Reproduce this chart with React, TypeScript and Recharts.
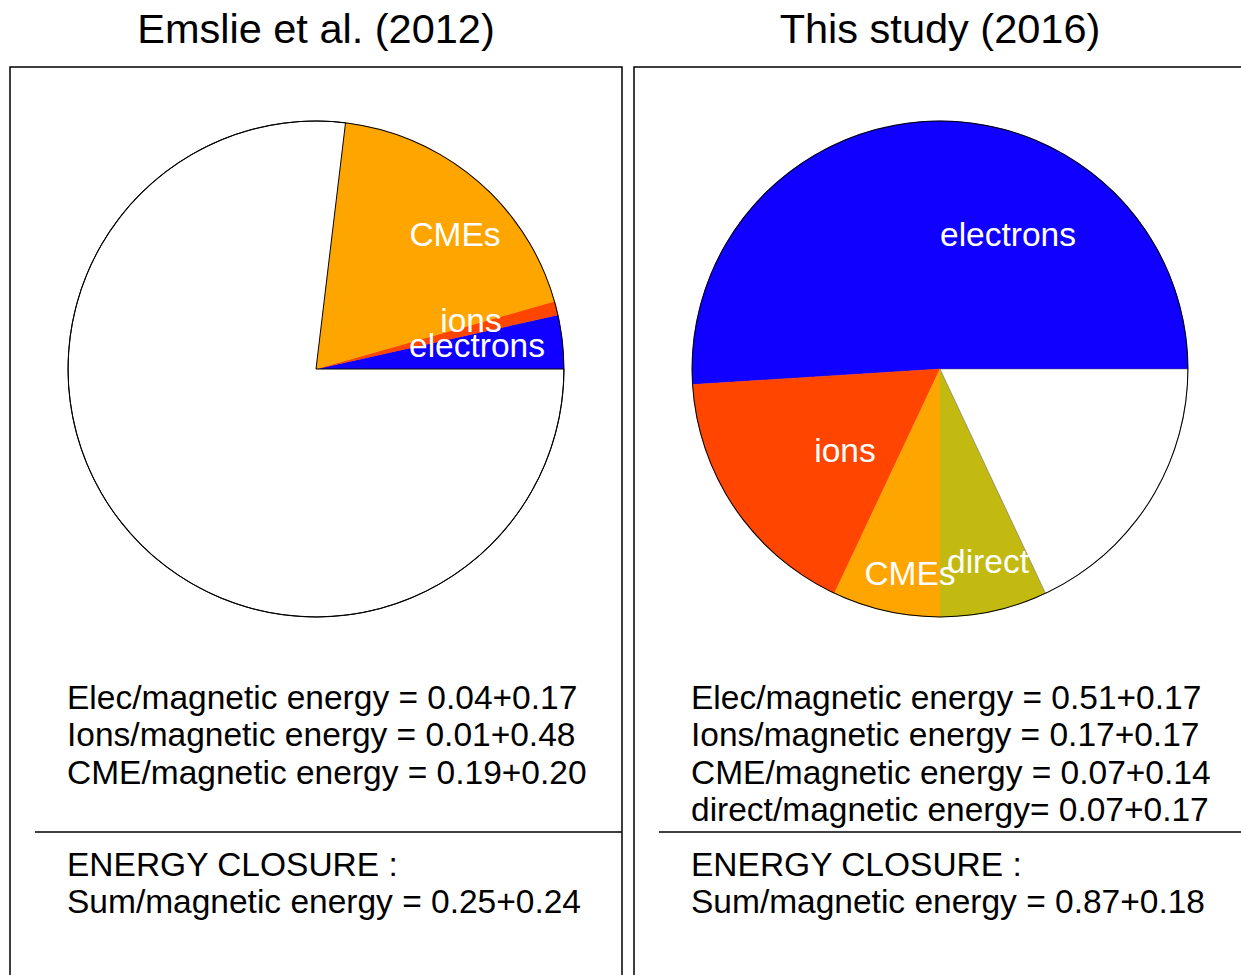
import React from 'react';
import { PieChart, Pie, Cell } from 'recharts';

// fractions of magnetic energy
const leftNames = ['electrons', 'ions', 'CMEs', 'rest'];
const leftValues = [0.035, 0.009, 0.187, 0.769];
const rightNames = ['electrons', 'ions', 'CMEs', 'direct', 'rest'];
const rightValues = [0.51, 0.17, 0.07, 0.07, 0.18];

const leftTitle = 'Emslie et al. (2012)';
const rightTitle = 'This study (2016)';
const leftLines = [
  'Elec/magnetic energy = 0.04+0.17',
  'Ions/magnetic energy = 0.01+0.48',
  'CME/magnetic energy = 0.19+0.20',
];
const rightLines = [
  'Elec/magnetic energy = 0.51+0.17',
  'Ions/magnetic energy = 0.17+0.17',
  'CME/magnetic energy = 0.07+0.14',
  'direct/magnetic energy= 0.07+0.17',
];
const closureLeft = ['ENERGY CLOSURE :', 'Sum/magnetic energy = 0.25+0.24'];
const closureRight = ['ENERGY CLOSURE :', 'Sum/magnetic energy = 0.87+0.18'];

const colors: Record<string, string> = {
  electrons: '#1000FF',
  ions: '#FF4500',
  CMEs: '#FFA500',
  direct: '#C2BA10',
  rest: '#FFFFFF',
};

const font = '"Liberation Sans", Arial, sans-serif';
const R = 248;
const LCX = 316;
const RCX = 940;
const CY = 369;

// label offsets from the pie centre
const leftLabelOffsets: Record<string, [number, number]> = {
  CMEs: [139, -123],
  ions: [155, -37],
  electrons: [161, -12],
};
const rightLabelOffsets: Record<string, [number, number]> = {
  electrons: [68, -123],
  ions: [-95, 93],
  CMEs: [-30, 216],
  direct: [48, 204],
};

const makeLabel = (cx: number, offsets: Record<string, [number, number]>) => (p: any) => {
  const off = offsets[p.name];
  if (!off) return null;
  return (
    <text x={cx + off[0]} y={CY + off[1]} fill="#fff" fontSize={33.5} fontFamily={font} textAnchor="middle">
      {p.name}
    </text>
  );
};

const App: React.FC = () => {
  const leftData = leftNames.map((n, i) => ({ name: n, value: leftValues[i] }));
  const rightData = rightNames.map((n, i) => ({ name: n, value: rightValues[i] }));
  const ring = [{ name: 'ring', value: 1 }];

  const textBlock = (x: number, ys: number[], lines: string[]) =>
    lines.map((l, i) => (
      <text key={l} x={x} y={ys[i]} fontSize={33.5} fontFamily={font} fill="#000">
        {l}
      </text>
    ));

  const lineYs = [709, 746, 784, 821];

  return (
    <div style={{ position: 'absolute', left: 0, top: 0, width: 1241, height: 975, background: '#fff' }}>
      <svg width={1241} height={975} style={{ position: 'absolute', left: 0, top: 0 }}>
        <text x={316} y={43} fontSize={41.5} fontFamily={font} textAnchor="middle">{leftTitle}</text>
        <text x={940} y={43} fontSize={41.5} fontFamily={font} textAnchor="middle">{rightTitle}</text>
        <polyline points="10,976 10,67 622,67 622,976" fill="none" stroke="#000" strokeWidth={1.5} />
        <polyline points="634,976 634,67 1242,67" fill="none" stroke="#000" strokeWidth={1.5} />
        <line x1={35} y1={832} x2={622} y2={832} stroke="#000" strokeWidth={1.5} />
        <line x1={659} y1={832} x2={1242} y2={832} stroke="#000" strokeWidth={1.5} />
        {textBlock(67, lineYs, leftLines)}
        {textBlock(691, lineYs, rightLines)}
        {textBlock(67, [876, 913], closureLeft)}
        {textBlock(691, [876, 913], closureRight)}
      </svg>
      <div style={{ position: 'absolute', left: 0, top: 0 }}>
        <PieChart width={1241} height={975} margin={{ top: 0, right: 0, bottom: 0, left: 0 }}>
          <Pie
            data={leftData}
            dataKey="value"
            cx={LCX}
            cy={CY}
            outerRadius={R}
            startAngle={0}
            endAngle={360}
            isAnimationActive={false}
            labelLine={false}
            label={makeLabel(LCX, leftLabelOffsets)}
          >
            {leftData.map(d => (
              <Cell
                key={d.name}
                fill={colors[d.name]}
                stroke={d.name === 'rest' ? '#000' : colors[d.name]}
                strokeWidth={d.name === 'rest' ? 1 : 0.5}
              />
            ))}
          </Pie>
          <Pie
            data={rightData}
            dataKey="value"
            cx={RCX}
            cy={CY}
            outerRadius={R}
            startAngle={0}
            endAngle={360}
            isAnimationActive={false}
            labelLine={false}
            label={makeLabel(RCX, rightLabelOffsets)}
          >
            {rightData.map(d => (
              <Cell
                key={d.name}
                fill={colors[d.name]}
                stroke={d.name === 'rest' ? '#555' : colors[d.name]}
                strokeWidth={0.5}
              />
            ))}
          </Pie>
          <Pie data={ring} dataKey="value" cx={LCX} cy={CY} innerRadius={R - 0.6} outerRadius={R + 0.4}
            fill="#000" stroke="none" isAnimationActive={false} />
          <Pie data={ring} dataKey="value" cx={RCX} cy={CY} innerRadius={R - 0.6} outerRadius={R + 0.4}
            fill="#000" stroke="none" isAnimationActive={false} />
        </PieChart>
      </div>
    </div>
  );
};

export default App;
